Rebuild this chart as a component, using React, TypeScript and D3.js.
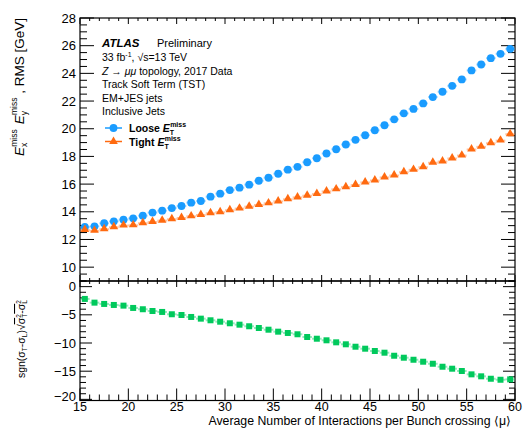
import React, { useEffect, useRef } from 'react';
import * as d3 from 'd3';

// bin centres of <mu>
const mu = [
  15.5, 16.5, 17.5, 18.5, 19.5, 20.5, 21.5, 22.5, 23.5, 24.5, 25.5, 26.5, 27.5, 28.5, 29.5,
  30.5, 31.5, 32.5, 33.5, 34.5, 35.5, 36.5, 37.5, 38.5, 39.5, 40.5, 41.5, 42.5, 43.5, 44.5,
  45.5, 46.5, 47.5, 48.5, 49.5, 50.5, 51.5, 52.5, 53.5, 54.5, 55.5, 56.5, 57.5, 58.5, 59.5,
];

const loose = [
  12.9, 12.95, 13.17, 13.31, 13.43, 13.53, 13.72, 13.94, 14.08, 14.27, 14.42, 14.66, 14.78, 15.09, 15.31,
  15.57, 15.74, 15.96, 16.24, 16.46, 16.75, 17.04, 17.25, 17.58, 17.87, 18.21, 18.52, 18.86, 19.2, 19.53,
  19.89, 20.25, 20.68, 21.11, 21.43, 21.83, 22.29, 22.67, 23.1, 23.56, 24.21, 24.64, 25.1, 25.41, 25.77,
];

const tight = [
  12.69, 12.62, 12.74, 12.88, 13.0, 13.02, 13.17, 13.26, 13.36, 13.46, 13.55, 13.67, 13.77, 13.89, 13.97,
  14.11, 14.23, 14.37, 14.49, 14.61, 14.75, 14.9, 15.04, 15.16, 15.28, 15.47, 15.62, 15.78, 15.93, 16.12,
  16.26, 16.48, 16.62, 16.86, 17.03, 17.22, 17.54, 17.63, 17.85, 18.06, 18.5, 18.69, 18.95, 19.14, 19.6,
];

const diff = [
  -2.18, -2.84, -3.07, -3.25, -3.37, -3.78, -4.01, -4.32, -4.49, -4.9, -5.03, -5.38, -5.68, -5.97, -6.22,
  -6.5, -6.75, -7.03, -7.34, -7.64, -7.99, -8.22, -8.45, -8.93, -9.24, -9.52, -9.88, -10.23, -10.66, -11.01,
  -11.42, -11.72, -12.26, -12.61, -12.97, -13.32, -13.68, -14.21, -14.56, -14.97, -15.56, -15.91, -16.34, -16.52, -16.45,
];

const xTicks = [15, 20, 25, 30, 35, 40, 45, 50, 55, 60];
const yTopTicks = [10, 12, 14, 16, 18, 20, 22, 24, 26, 28];
const yBotTicks = [0, -5, -10, -15, -20];

const annotations = [
  '33 fb-1, √s=13 TeV',
  'Z → μμ topology, 2017 Data',
  'Track Soft Term (TST)',
  'EM+JES jets',
  'Inclusive Jets',
];

const BLUE = '#1a9cff';
const ORANGE = '#ff6a10';
const GREEN = '#00c95c';
const FONT = 'Liberation Sans, Arial, Helvetica, sans-serif';

const W = 526;
const H = 428;
const L = 80;
const R = 515;
const T1 = 18;
const B1 = 281;
const B2 = 400.5;

const App = () => {
  const svgRef = useRef<SVGSVGElement>(null);

  useEffect(() => {
    const svg = d3.select(svgRef.current);
    svg.selectAll('*').remove();

    const x = d3.scaleLinear().domain([15, 60]).range([L, R]);
    const yTop = d3.scaleLinear().domain([9, 28]).range([B1, T1]);
    const yBot = d3.scaleLinear().domain([-20.2, 1]).range([B2, B1]);

    const g = svg.append('g').attr('font-family', FONT);

    // --- ticks helper
    const ticksX = (y0: number, dir: number, maj: number, min: number) => {
      d3.range(15, 61, 1).forEach((v) => {
        const len = v % 5 === 0 ? maj : min;
        g.append('line')
          .attr('x1', x(v)).attr('x2', x(v))
          .attr('y1', y0).attr('y2', y0 + dir * len)
          .attr('stroke', '#000').attr('stroke-width', 1);
      });
    };
    const ticksY = (
      sc: d3.ScaleLinear<number, number>,
      vals: number[],
      isMajor: (v: number) => boolean,
      maj: number,
      min: number,
    ) => {
      vals.forEach((v) => {
        const len = isMajor(v) ? maj : min;
        g.append('line')
          .attr('x1', L).attr('x2', L + len)
          .attr('y1', sc(v)).attr('y2', sc(v))
          .attr('stroke', '#000');
        g.append('line')
          .attr('x1', R).attr('x2', R - len)
          .attr('y1', sc(v)).attr('y2', sc(v))
          .attr('stroke', '#000');
      });
    };

    // top panel ticks
    ticksY(yTop, d3.range(9, 28.01, 0.5), (v) => Math.abs(v % 2) < 1e-6, 14, 7);
    ticksX(T1, 1, 6, 3);
    ticksX(B1, -1, 6, 3);
    // bottom panel ticks
    ticksY(yBot, d3.range(-20, 1.01, 1), (v) => v % 5 === 0, 12, 6);
    ticksX(B1, 1, 6, 3);
    ticksX(B2, -1, 12, 6);

    // frames
    g.append('rect').attr('x', L).attr('y', T1).attr('width', R - L).attr('height', B1 - T1)
      .attr('fill', 'none').attr('stroke', '#000').attr('stroke-width', 1.2);
    g.append('rect').attr('x', L).attr('y', B1).attr('width', R - L).attr('height', B2 - B1)
      .attr('fill', 'none').attr('stroke', '#000').attr('stroke-width', 1.2);

    // tick labels
    yTopTicks.forEach((v) => {
      g.append('text').attr('x', L - 4).attr('y', yTop(v) + 4.5)
        .attr('text-anchor', 'end').attr('font-size', 13).text(v);
    });
    yBotTicks.forEach((v) => {
      g.append('text').attr('x', L - 4).attr('y', v === -20 ? yBot(v) + 2 : yBot(v) + 4.5)
        .attr('text-anchor', 'end').attr('font-size', 13)
        .text(v < 0 ? '\u2212' + Math.abs(v) : String(v));
    });
    xTicks.forEach((v) => {
      g.append('text').attr('x', x(v)).attr('y', 410.5)
        .attr('text-anchor', 'middle').attr('font-size', 12.5).text(v);
    });

    // x title
    g.append('text').attr('x', 511).attr('y', 425).attr('text-anchor', 'end')
      .attr('font-size', 12.3).text('Average Number of Interactions per Bunch crossing \u27e8\u03bc\u27e9');

    // y title (top)
    const yt = g.append('text').attr('transform', 'translate(24,18) rotate(-90)')
      .attr('text-anchor', 'end').attr('font-size', 13.5);
    yt.append('tspan').attr('font-style', 'italic').text('E');
    yt.append('tspan').attr('font-size', 8.5).attr('dy', 3).text('x');
    yt.append('tspan').attr('font-size', 8.5).attr('dx', -4).attr('dy', -10).text('miss');
    yt.append('tspan').attr('dy', 7).attr('dx', 5).attr('font-style', 'italic').text('E');
    yt.append('tspan').attr('font-size', 8.5).attr('dy', 3).text('y');
    yt.append('tspan').attr('font-size', 8.5).attr('dx', -4).attr('dy', -10).text('miss');
    yt.append('tspan').attr('dy', 7).text(' , RMS [GeV]');

    // y title (bottom)
    const yb = g.append('text').attr('transform', 'translate(25,300) rotate(-90)')
      .attr('text-anchor', 'end').attr('font-size', 10.5);
    yb.append('tspan').text('sgn(\u03c3');
    yb.append('tspan').attr('font-size', 6.5).attr('dy', 2).text('T');
    yb.append('tspan').attr('dy', -2).text('-\u03c3');
    yb.append('tspan').attr('font-size', 6.5).attr('dy', 2).text('L');
    yb.append('tspan').attr('dy', -2).text(')\u221a');
    yb.append('tspan').attr('text-decoration', 'overline').text('\u03c3');
    yb.append('tspan').attr('font-size', 6.5).attr('dy', -4).text('2');
    yb.append('tspan').attr('font-size', 6.5).attr('dx', -3.5).attr('dy', 6).text('T');
    yb.append('tspan').attr('dy', -2).attr('text-decoration', 'overline').text('-\u03c3');
    yb.append('tspan').attr('font-size', 6.5).attr('dy', -4).text('2');
    yb.append('tspan').attr('font-size', 6.5).attr('dx', -3.5).attr('dy', 6).text('L');

    // --- data: horizontal bin-width bars
    const drawErr = (sc: d3.ScaleLinear<number, number>, vals: number[], color: string) => {
      vals.forEach((v, i) => {
        g.append('line').attr('x1', x(mu[i] - 0.5)).attr('x2', x(mu[i] + 0.5))
          .attr('y1', sc(v)).attr('y2', sc(v))
          .attr('stroke', color).attr('stroke-opacity', 0.4).attr('stroke-width', 2);
      });
    };
    drawErr(yTop, loose, BLUE);
    drawErr(yTop, tight, ORANGE);
    drawErr(yBot, diff, GREEN);

    const circle = d3.symbol().type(d3.symbolCircle).size(48);
    const tri = d3.symbol().type(d3.symbolTriangle).size(32);
    const sq = d3.symbol().type(d3.symbolSquare).size(36);

    g.selectAll('.loose').data(loose).enter().append('path')
      .attr('d', circle).attr('fill', BLUE)
      .attr('transform', (d, i) => `translate(${x(mu[i])},${yTop(d)})`);
    g.selectAll('.tight').data(tight).enter().append('path')
      .attr('d', tri).attr('fill', ORANGE)
      .attr('transform', (d, i) => `translate(${x(mu[i])},${yTop(d) - 0.5})`);
    g.selectAll('.diff').data(diff).enter().append('path')
      .attr('d', sq).attr('fill', GREEN)
      .attr('transform', (d, i) => `translate(${x(mu[i])},${yBot(d)})`);

    // --- annotations
    g.append('text').attr('x', 102).attr('y', 47).attr('font-size', 11.5)
      .attr('font-weight', 'bold').attr('font-style', 'italic').text('ATLAS');
    g.append('text').attr('x', 157).attr('y', 47).attr('font-size', 11).text('Preliminary');
    annotations.forEach((s, i) => {
      const t = g.append('text').attr('x', 102).attr('y', 61 + i * 13.5).attr('font-size', 10.5);
      if (i === 0) {
        t.append('tspan').text('33 fb');
        t.append('tspan').attr('font-size', 7).attr('dy', -4).text('-1');
        t.append('tspan').attr('dy', 4).text(', \u221as=13 TeV');
      } else if (i === 1) {
        t.append('tspan').attr('font-style', 'italic').text('Z');
        t.append('tspan').text(' \u2192 ');
        t.append('tspan').attr('font-style', 'italic').text('\u03bc\u03bc');
        t.append('tspan').text(' topology, 2017 Data');
      } else {
        t.text(s);
      }
    });

    // legend
    const legend = [
      { name: 'Loose', color: BLUE, sym: circle, y: 128 },
      { name: 'Tight', color: ORANGE, sym: tri, y: 141.5 },
    ];
    legend.forEach((e) => {
      g.append('line').attr('x1', 105).attr('x2', 122).attr('y1', e.y).attr('y2', e.y)
        .attr('stroke', e.color).attr('stroke-width', 1.5);
      g.append('path').attr('d', e.sym).attr('fill', e.color)
        .attr('transform', `translate(113.5,${e.y})`);
      const t = g.append('text').attr('x', 129).attr('y', e.y + 4).attr('font-size', 10.5)
        .attr('font-weight', 'bold');
      t.append('tspan').text(e.name + ' ');
      t.append('tspan').attr('font-style', 'italic').text('E');
      t.append('tspan').attr('font-size', 7).attr('dy', 3).text('T');
      t.append('tspan').attr('font-size', 7).attr('dx', -4).attr('dy', -8).text('miss');
    });
  }, []);

  return (
    <svg
      ref={svgRef}
      width={W}
      height={H}
      style={{ position: 'absolute', left: 0, top: 0, background: '#fff' }}
    ></svg>
  );
};

export default App;
